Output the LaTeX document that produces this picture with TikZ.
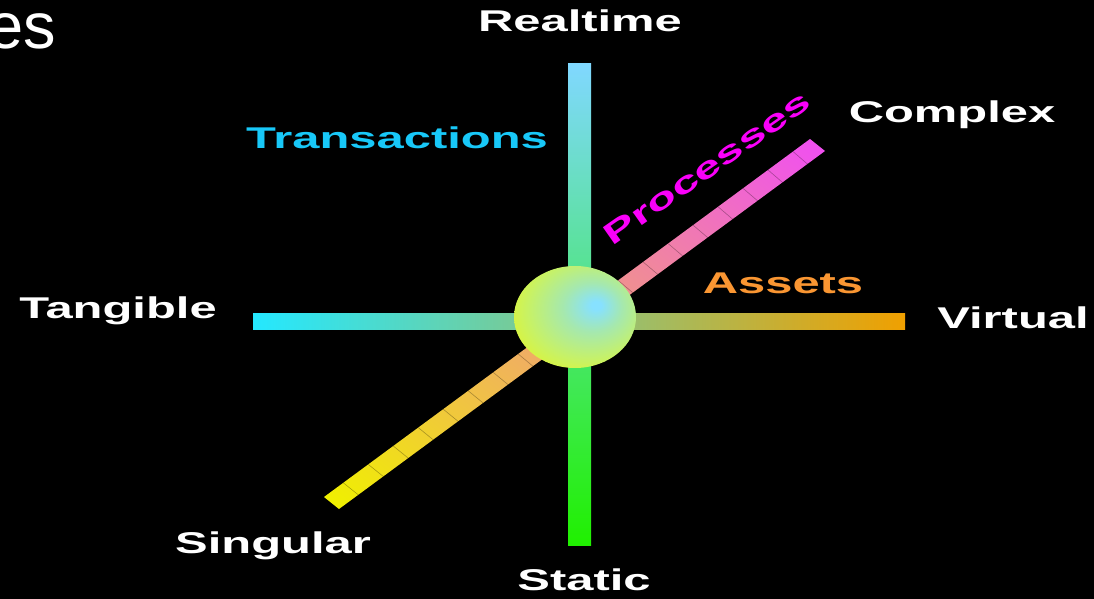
\documentclass[tikz,border=0pt]{standalone}
\usepackage{fontspec}
\setmainfont{Liberation Sans}
\usepackage{graphicx}
\usetikzlibrary{calc}
\definecolor{vtop}{RGB}{128,216,255}
\definecolor{vbot}{RGB}{32,240,0}
\definecolor{hleft}{RGB}{36,232,255}
\definecolor{hright}{RGB}{240,160,0}
\definecolor{dyel}{RGB}{240,240,0}
\definecolor{dmag}{RGB}{240,80,240}
\definecolor{gA}{RGB}{135,225,255}
\definecolor{gB}{RGB}{165,232,175}
\definecolor{gC}{RGB}{200,242,100}
\definecolor{gD}{RGB}{232,246,30}
\definecolor{transc}{RGB}{24,200,248}
\definecolor{procc}{RGB}{250,0,250}
\definecolor{assetc}{RGB}{250,150,50}
\pgfdeclareradialshading{globeshade}{\pgfpoint{9bp}{6bp}}{color(0bp)=(gA); color(2bp)=(gA); color(12bp)=(gB); color(25bp)=(gC); color(37bp)=(gD); color(60bp)=(gD)}
\newcommand{\wide}[1]{\scalebox{1.63}[1]{#1}}
\tikzset{
  lbl/.style={font=\bfseries\fontsize{30}{32}\selectfont, text=white, inner sep=0pt, anchor=base},
  divider/.style={draw=black, draw opacity=0.3, line width=0.6pt}
}
\begin{document}
\begin{tikzpicture}[x=1pt,y=-1pt]
\fill[black] (0,0) rectangle (1094,599);
\useasboundingbox (0,0) rectangle (1094,599);
% horizontal and vertical bars
\shade[left color=hleft, right color=hright] (253,313) rectangle (905,329);
\shade[top color=vtop, bottom color=vbot] (568,64) rectangle (591,545);
% diagonal strip
\coordinate (A) at (324,497);
\coordinate (B) at (339,509);
\coordinate (C) at (825,152);
\coordinate (D) at (810,139);
\begin{scope}[transform canvas={cm={0.486,0.358,0.015,-0.012,(324pt,-497pt)}}]
\shade[left color=dyel, right color=dmag] (0pt,0pt) rectangle (1000pt,1000pt);
\end{scope}
\foreach \k in {0,...,18}{
  \pgfmathsetmacro\tv{0.965-0.0514*\k}
  \draw[divider] ($(A)!\tv!(D)$) -- ($(B)!\tv!(C)$);
}
% sphere
\shade[shading=globeshade] (575,317) ellipse [x radius=61, y radius=51];
% labels
\node[font=\fontsize{65}{70}\selectfont, text=white, anchor=base east, inner sep=0pt] (title) at (56,49) {es};
\node[lbl] (realtime) at (580,32) {\wide{Realtime}};
\node[lbl, text=transc] (trans) at (397,148) {\wide{Transactions}};
\node[lbl] (complex) at (952,122) {\wide{Complex}};
\node[lbl] (tangible) at (118,318) {\wide{Tangible}};
\node[lbl] (virtual) at (1013,328) {\wide{Virtual}};
\node[lbl, text=assetc] (assets) at (783,293) {\wide{Assets}};
\node[lbl] (singular) at (273,553) {\wide{Singular}};
\node[lbl] (static) at (584,590) {\wide{Static}};
\node[lbl, anchor=center, rotate=35, text=procc] (proc) at (707,168) {\wide{Processes}};
\end{tikzpicture}
\end{document}
